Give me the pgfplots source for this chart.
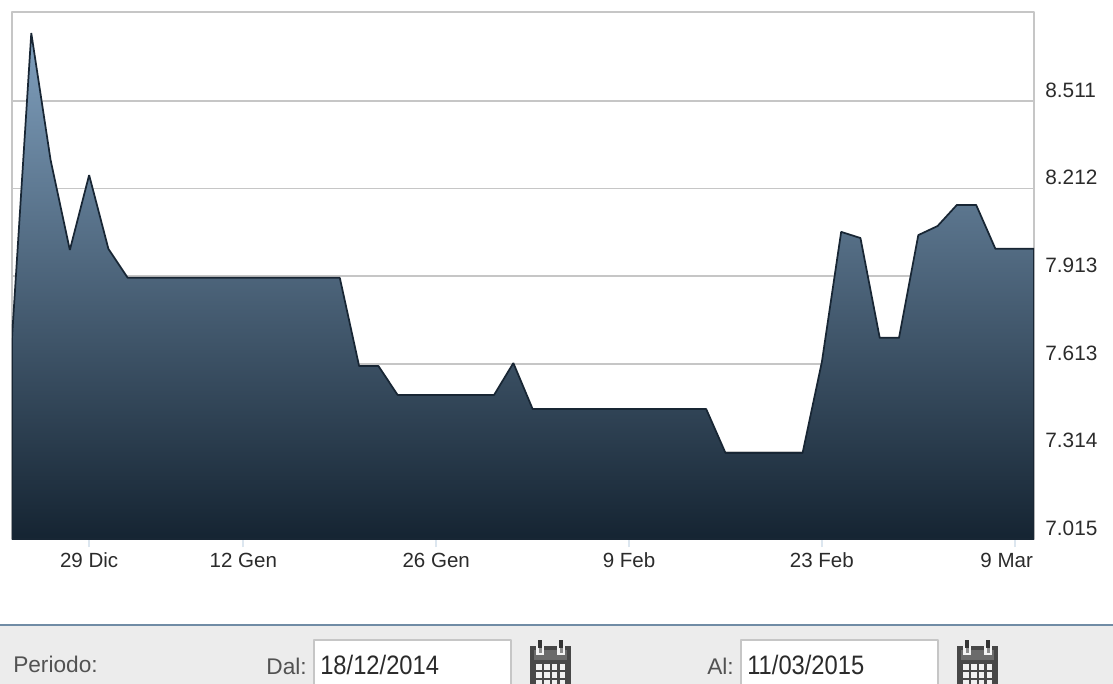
\documentclass[border=0pt]{standalone}
\usepackage{pgfplots}
\pgfplotsset{compat=1.18}
\usepackage{fontspec}
\setmainfont{Liberation Sans}
\definecolor{gridc}{HTML}{C6C6C6}
\definecolor{tickc}{HTML}{DCE6EF}
\definecolor{txt}{HTML}{2B2B2B}
\newcommand{\calicon}[1]{%
\begin{scope}[shift={(#1,0)}]
\fill[black!72] (0,646) -- (41,646) -- (41,690) -- (0,690) -- cycle;
\fill[black!58] (4,650) rectangle (37,660);
\foreach \cc in {7,28}{%
  \fill[black!5] (\cc-1,646) rectangle (\cc+7,655);
  \fill[black!45] (\cc+1.5,648) rectangle (\cc+4.5,653);
  \fill[black!80] (\cc+1,640) rectangle (\cc+5,647.5);}
\foreach \xx/\xy in {6/12,14/19.5,21.5/27,29.5/35}{%
  \foreach \yy in {664.3,672,680}{\fill[black!6] (\xx,\yy) rectangle (\xy,\yy+5.8);}}
\end{scope}}
\begin{document}
\begin{tikzpicture}[line join=round]
\path[fill=white,use as bounding box] (0,0) rectangle (834.75pt,-513pt);
\clip (0,0) rectangle (834.75pt,-513pt);
\begin{axis}[
  at={(9pt,-404.25pt)},anchor=south west,
  scale only axis,width=766.5pt,height=395.25pt,
  xmin=0,xmax=53,ymin=7.015,ymax=8.815,
  axis line style={gridc,line width=1.6pt},
  ymajorgrids=true,
  grid style={gridc,line width=1.3pt},
  ytick={7.015,7.314,7.613,7.913,8.212,8.511},
  yticklabel pos=right,
  ytick style={draw=none},
  y tick label style={/pgf/number format/fixed,/pgf/number format/fixed zerofill,/pgf/number format/precision=3,/pgf/number format/assume math mode=true,font=\fontsize{15.6}{17}\selectfont,text=txt,anchor=west,xshift=-1pt,yshift=8.2pt},
  tick align=outside,major tick length=6pt,
  xtick pos=bottom,
  xtick={4,12,22,32,42},
  xticklabels={29 Dic,12 Gen,26 Gen,9 Feb,23 Feb},
  extra x ticks={52},
  extra x tick labels={9 Mar},
  extra x tick style={xticklabel style={xshift=-6pt}},
  x tick label style={font=\fontsize{15.4}{17}\selectfont,text=txt,yshift=-.75pt},
  xtick style={tickc,line width=1.6pt},
]
\addplot[draw={rgb,255:red,24;green,38;blue,52},line width=1.3pt,line join=bevel,shade,shading=axis,
  top color={rgb,255:red,128;green,160;blue,190},
  middle color={rgb,255:red,78;green,101;blue,126},
  bottom color={rgb,255:red,21;green,36;blue,50}]
coordinates {
(0,7.702)(1,8.743)(2,8.310)(3,8.002)(4,8.258)(5,8.006)(6,7.907)(7,7.907)(8,7.907)(9,7.907)
(10,7.907)(11,7.907)(12,7.907)(13,7.907)(14,7.907)(15,7.907)(16,7.907)(17,7.907)(18,7.606)(19,7.606)
(20,7.507)(21,7.507)(22,7.507)(23,7.507)(24,7.507)(25,7.507)(26,7.616)(27,7.459)(28,7.459)(29,7.459)
(30,7.459)(31,7.459)(32,7.459)(33,7.459)(34,7.459)(35,7.459)(36,7.459)(37,7.309)(38,7.309)(39,7.309)
(40,7.309)(41,7.309)(42,7.620)(43,8.064)(44,8.043)(45,7.702)(46,7.702)(47,8.053)(48,8.084)(49,8.156)
(50,8.156)(51,8.006)(52,8.006)(53,8.006)
} \closedcycle;
\end{axis}
\begin{scope}[x=.75pt,y=-.75pt]
\fill[black!7.5] (0,625) rectangle (1113,690);
\draw[color={rgb,255:red,112;green,140;blue,165},line width=1.3pt] (0,625) -- (1113,625);
\foreach \a/\b in {314/511,741/938}{%
  \fill[white] (\a,640) rectangle (\b,690);
  \draw[gridc,line width=1.2pt] (\a,690) -- (\a,640) -- (\b,640) -- (\b,690);}
\node[anchor=base west,inner sep=0,text=black!68,font=\fontsize{17}{19}\selectfont] at (13,672) {Periodo:};
\node[anchor=base east,inner sep=0,text=black!68,font=\fontsize{17}{19}\selectfont] at (307,674) {Dal:};
\node[anchor=base east,inner sep=0,text=black!68,font=\fontsize{17}{19}\selectfont] at (734,674) {Al:};
\node[anchor=base west,inner sep=0,text=txt,font=\fontsize{20}{22}\selectfont] at (320,674.5) {\scalebox{.89}[1]{18/12/2014}};
\node[anchor=base west,inner sep=0,text=txt,font=\fontsize{20}{22}\selectfont] at (747,674.5) {\scalebox{.89}[1]{11/03/2015}};
\calicon{530}
\calicon{957}
\end{scope}
\end{tikzpicture}
\end{document}
